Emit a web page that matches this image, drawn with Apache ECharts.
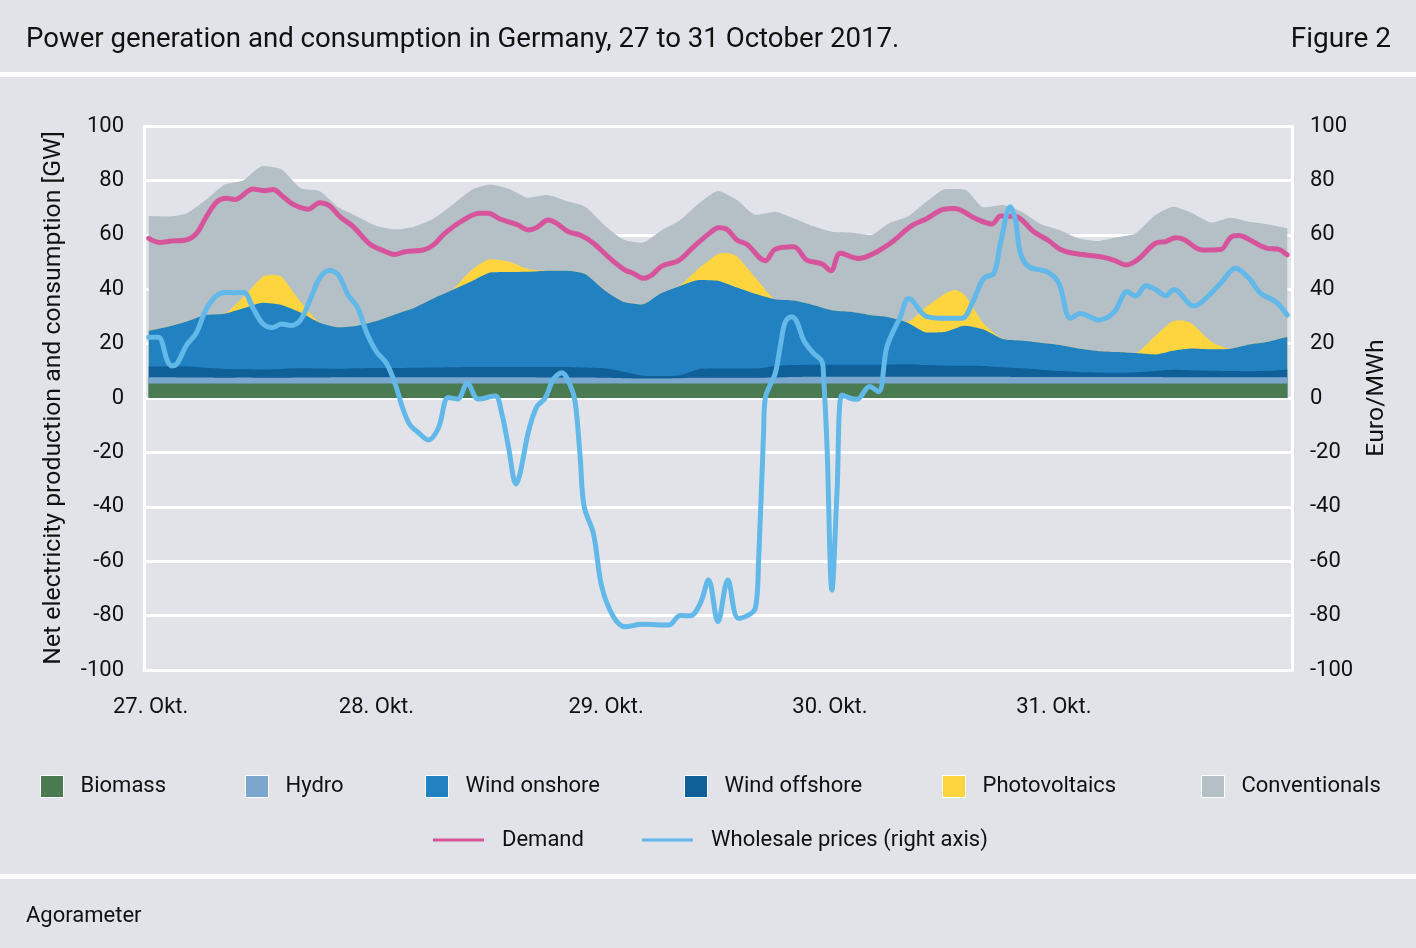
<!DOCTYPE html>
<html>
<head>
<meta charset="utf-8">
<style>html,body{margin:0;padding:0;background:#e1e3e8}#chart{width:1416px;height:948px}</style>
<script src="https://cdn.jsdelivr.net/npm/echarts@6/dist/echarts.min.js"></script>
</head>
<body>
<div id="chart"></div>
<script>
// hours since 27 Oct 00:00, one reading every 2 hours for the generation bands
var bandHours = [0,2,4,6,8,10,12,14,16,18,20,22,24,26,28,30,32,34,36,38,40,42,44,46,48,50,52,54,56,58,60,62,64,66,68,70,72,74,76,78,80,82,84,86,88,90,92,94,96,98,100,102,104,106,108,110,112,114,116,118,120];
// the solar humps peak between those readings, so they get a few more
var photovoltaicsHours = [0,2,4,6,8,10,12,13,14,16,18,20,22,24,26,28,30,32,34,36,38,40,42,44,46,48,50,52,54,56,58,60,61,62,64,66,68,70,72,74,76,78,80,82,84,85,86,88,90,92,94,96,98,100,102,104,106,108,109,110,112,114,116,118,120];

// upper edge of each band in GW
var biomassTop = [5.3,5.3,5.3,5.3,5.3,5.3,5.3,5.3,5.3,5.3,5.3,5.3,5.3,5.3,5.3,5.3,5.3,5.3,5.3,5.3,5.3,5.3,5.3,5.3,5.3,5.3,5.3,5.3,5.3,5.3,5.3,5.3,5.3,5.3,5.3,5.3,5.3,5.3,5.3,5.3,5.3,5.3,5.3,5.3,5.3,5.3,5.3,5.3,5.3,5.3,5.3,5.3,5.3,5.3,5.3,5.3,5.3,5.3,5.3,5.3,5.3];
var hydroTop = [7.6,7.6,7.5,7.5,7.4,7.5,7.4,7.4,7.5,7.5,7.6,7.6,7.6,7.6,7.6,7.6,7.6,7.6,7.6,7.6,7.6,7.5,7.5,7.5,7.4,7.3,7.2,7.2,7.3,7.4,7.4,7.4,7.4,7.5,7.7,7.8,7.8,7.8,7.8,7.8,7.8,7.8,7.8,7.8,7.8,7.8,7.7,7.7,7.7,7.7,7.7,7.7,7.7,7.7,7.6,7.6,7.6,7.6,7.6,7.6,7.6];
var windOffshoreTop = [11.6,11.6,11.6,11.1,10.7,10.6,10.5,10.7,10.9,10.8,10.7,10.9,11,11,11.1,11.2,11.3,11.4,11.4,11.4,11.4,11.4,11.4,11.2,10.9,9.7,8.2,8.1,8.4,10.6,10.8,10.8,10.8,11.8,12.1,12.2,12.2,12.2,12.2,12.3,12.4,12.1,11.9,11.9,11.8,11.3,10.9,10.4,9.9,9.6,9.4,9.3,9.4,9.9,10.4,10.2,10,9.9,9.8,10,10.5];
var windOnshoreTop = [24.7,26.2,28.1,30.5,31,33,35,34.2,31.4,27.7,26,26.6,28.3,30.8,33.2,36.6,39.7,42.8,46.1,46.3,46.4,46.8,46.8,45.6,39.7,35.4,34.4,38.5,41.2,43.4,43.1,40.6,38.2,36.3,35.8,34.2,32.3,31.7,30.5,29.7,27.7,24.1,24.4,26.6,25.2,21.7,21.1,20.3,19.5,18.2,17.3,16.9,16.5,16,17.4,18.2,17.9,18.1,19.7,20.7,22.5];
var photovoltaicsTop = [24.7,26.2,28.1,30.5,31,37.2,44.6,45.3,44.6,35.4,27.7,26,26.6,28.3,30.8,33.2,36.6,39.8,47,51,50.1,47.4,46.8,46.8,45.6,39.7,35.4,34.4,38.5,41.4,47.7,52.9,53.3,52,44,36.3,35.8,34.2,32.3,31.7,30.5,29.7,28.1,33.6,38.5,39.7,37.9,27.4,21.7,21.1,20.3,19.5,18.2,17.3,16.9,16.5,22.5,28.3,28.5,27.2,20.7,18.1,19.7,20.7,22.5];
var conventionalsTop = [66.9,66.7,67.9,72.8,78.5,80.1,85.3,84.1,77.1,76.1,70.1,66.7,63.2,62,63,66,71,76.5,78.5,76.8,73.6,74.6,72.4,70.3,63.6,58.3,57.1,61.5,65.4,71.6,76.1,72.8,67.3,68.5,66,63.2,61.1,60.8,59.9,64.2,66.7,72.2,76.8,76.7,70.1,71,68.5,64,61.8,58.7,57.7,59.1,60.5,67,70.3,67.9,64.5,66.3,64.8,63.8,62.4];

var demandHours = [0,1.16,2.39,3.8,5.03,6.08,7.2,8.19,9.07,11,12.23,13.1,14.17,15.2,16.8,18.03,19.08,20.14,21.55,23.3,24.71,25.94,27,28.93,29.98,31.2,33.15,34.9,35.8,37,38.8,40,40.9,42.12,43,44.23,45.46,46.87,48.63,50.21,51.09,52.14,53.02,54.08,55.84,57.42,59.18,60.06,60.94,61.99,63.04,64.98,66.03,67.97,69.37,70.96,71.9,72.89,74.83,76.76,78.52,80.27,82.03,83.79,85.02,85.9,87.13,88.89,89.77,91.35,93.28,94.87,96.1,97.5,100.32,101.72,103.02,104.18,106.12,107.17,108.23,109.11,111.04,112.98,114.03,114.91,115.96,117.9,118.95,120];
var demand = [58.7,57.2,57.7,58,60.5,66.7,72.2,73.4,73,76.8,76.2,76.7,74,71.2,69.4,71.8,70.6,66.7,63,56.6,54.2,52.8,53.8,54.4,56.2,60.5,65.4,67.9,67.9,65.8,63.8,61.8,62.7,65.4,64.2,61.1,59.9,56.9,51.3,47,45.8,44,45.2,48.5,50.5,55.6,60.8,62.6,62,58.1,56.5,50.5,54.7,55.6,50.7,49.3,46.8,53.2,51.3,53.8,57.8,63,66,69.4,69.7,68.5,66,64,66.9,66.7,61.1,57.8,54.6,53.2,51.9,50.7,48.9,50.7,56.9,57.5,58.9,58.3,54.4,54.6,59,59.7,58.3,55,54.8,52.6];

var priceHours = [0,1,2,2.5,3,4,5,6,7,8,9,10,11,12,13,14,15,16,17,18,19,20,21,22,23,24,25.07,25.95,26.83,27.53,28.41,29.47,30.52,31.58,32.56,33.58,34.74,36.5,37.2,37.91,38.72,39.14,40.02,40.9,41.78,42.65,43.53,44.41,44.94,45.47,45.89,46.87,47.75,48.98,50.21,51.97,54.79,56.02,57.07,58.13,59,59.99,61.04,62.17,63.93,64.28,64.8,64.98,66.03,66.56,67.09,67.79,68.32,69.02,70.08,70.96,71.13,71.49,72.01,72.54,73.07,73.95,74.65,75.98,76.93,77.81,79.22,80.1,82.03,83.97,85.72,86.78,88.01,89.07,89.77,90.82,91.35,91.88,92.76,94.69,95.92,97.15,98.21,100.14,101.72,103.13,104.01,105.13,106.12,107.17,108.05,110.16,111.22,112.98,114.56,115.96,117.19,118.78,120];
var price = [22.3,22.3,13.4,11.8,12.7,19.5,23.8,32.3,37.2,38.8,38.7,38.8,33,27.4,25.9,27.2,26.7,28.7,36,44,46.9,45.2,37.9,33.3,23.8,17,12.7,5.4,-4.4,-9.9,-12.7,-15.4,-11.1,0.2,-0.4,5.4,-0.4,0.7,-5.6,-17.9,-31.6,-27.7,-12.4,-3.2,-0.1,6.9,9.3,4.8,-1.3,-21.6,-39.9,-49.8,-69.4,-80.4,-84.1,-83.2,-83.5,-80,-80.1,-75.5,-66.9,-82.2,-66.9,-81,-77.3,-59.6,-13,-0.1,9,18.9,28,29.9,28,21.3,16.4,13.4,8,-17.9,-70.6,-35,1.1,-0.1,-0.5,4.2,2.3,18.9,29.9,36.6,29.9,29.3,29.3,34.8,44,45.8,56.9,70.3,65.4,53.2,48.3,46.4,42.2,29.3,31.1,28.7,31.4,39.1,37.5,41.3,39.9,37.6,39.9,33.8,36,42.2,47.7,44,38.5,35.4,30.5];

var dayTicks = [0.2,24,48.2,71.8,95.4];
var dayLabels = ['27. Okt.','28. Okt.','29. Okt.','30. Okt.','31. Okt.'];

var FONT = 'Roboto';
var TEXT = '#111111';

function pairs(xs, ys) {
    return xs.map(function(x, i) { return [x, ys[i]]; });
}

function band(name, color, xs, top) {
    return {
        name: name, type: 'line', data: pairs(xs, top),
        showSymbol: false, silent: true, smooth: 0.2,
        itemStyle: {color: color},
        lineStyle: {width: 0},
        areaStyle: {color: color, opacity: 1}
    };
}

function curve(name, color, xs, ys, yAxisIndex) {
    return {
        name: name, type: 'line', data: pairs(xs, ys), yAxisIndex: yAxisIndex,
        showSymbol: false, silent: true, smooth: 0.35,
        itemStyle: {color: color},
        lineStyle: {color: color, width: 5, cap: 'round', join: 'round'},
        z: 5
    };
}

// the legend is not evenly spaced in the original, so one legend per entry
function swatch(name, left) {
    return {
        data: [name], left: left, top: 775, icon: 'rect', itemWidth: 23, itemHeight: 22, itemGap: 0,
        itemStyle: {borderColor: '#ffffff', borderWidth: 1},
        selectedMode: false, padding: 0,
        textStyle: {fontFamily: FONT, fontSize: 22, color: TEXT, padding: [6, 0, 0, 12]}
    };
}
function lineKey(name, left) {
    return {
        data: [name], left: left, top: 829, icon: 'rect', itemWidth: 51, itemHeight: 3, itemGap: 0,
        selectedMode: false, padding: 0,
        textStyle: {fontFamily: FONT, fontSize: 22, color: TEXT, padding: [6, 0, 0, 13]}
    };
}

var chart = echarts.init(document.getElementById('chart'));
chart.setOption({
    animation: false,
    backgroundColor: '#e1e3e8',
    title: [
        {text: 'Power generation and consumption in Germany, 27 to 31 October 2017.', left: 26, top: 26, padding: 0,
            textStyle: {fontFamily: FONT, fontWeight: 'normal', fontSize: 27.6, color: TEXT}},
        {text: 'Figure 2', right: 25, top: 26, padding: 0,
            textStyle: {fontFamily: FONT, fontWeight: 'normal', fontSize: 28, color: TEXT}},
        {text: 'Agorameter', left: 26, top: 905, padding: 0,
            textStyle: {fontFamily: FONT, fontWeight: 'normal', fontSize: 22, color: TEXT}}
    ],
    graphic: [
        {type: 'rect', shape: {x: 0, y: 72, width: 1416, height: 5}, style: {fill: '#ffffff'}},
        {type: 'rect', shape: {x: 0, y: 874, width: 1416, height: 5}, style: {fill: '#ffffff'}}
    ],
    grid: {left: 144, right: 124, top: 126, height: 544},
    xAxis: {
        type: 'value', min: -0.5, max: 120.5, splitLine: {show: false},
        axisLine: {onZero: false, lineStyle: {color: '#ffffff', width: 3}},
        axisTick: {show: false},
        axisLabel: {
            customValues: dayTicks, margin: 26, color: TEXT, fontFamily: FONT, fontSize: 22,
            formatter: function(v) { return dayLabels[dayTicks.indexOf(v)]; }
        }
    },
    yAxis: [
        {
            type: 'value', min: -100, max: 100, interval: 20,
            name: 'Net electricity production and consumption [GW]', nameLocation: 'middle', nameGap: 78, nameRotate: 90,
            nameTextStyle: {fontFamily: FONT, fontSize: 24.8, color: TEXT},
            axisLine: {show: true, onZero: false, lineStyle: {color: '#ffffff', width: 3}},
            axisTick: {show: false},
            splitLine: {lineStyle: {color: '#ffffff', width: 3}},
            axisLabel: {margin: 20, color: TEXT, fontFamily: FONT, fontSize: 22, padding: [4, 0, 0, 0]}
        },
        {
            type: 'value', min: -100, max: 100, interval: 20, position: 'right',
            name: 'Euro/MWh', nameLocation: 'middle', nameGap: 72, nameRotate: 90,
            nameTextStyle: {fontFamily: FONT, fontSize: 24.8, color: TEXT},
            axisLine: {show: true, onZero: false, lineStyle: {color: '#ffffff', width: 3}},
            axisTick: {show: false},
            splitLine: {show: false},
            axisLabel: {margin: 18, color: TEXT, fontFamily: FONT, fontSize: 22, padding: [4, 0, 0, 0]}
        }
    ],
    legend: [
        swatch('Biomass', 40), swatch('Hydro', 245), swatch('Wind onshore', 425),
        swatch('Wind offshore', 684), swatch('Photovoltaics', 942), swatch('Conventionals', 1201),
        lineKey('Demand', 433), lineKey('Wholesale prices (right axis)', 642)
    ],
    series: [
        // painted back to front, each band reaching down to zero
        band('Conventionals', '#b5c0c6', bandHours, conventionalsTop),
        band('Photovoltaics', '#ffd53f', photovoltaicsHours, photovoltaicsTop),
        band('Wind onshore', '#2281c1', bandHours, windOnshoreTop),
        band('Wind offshore', '#0f5f99', bandHours, windOffshoreTop),
        band('Hydro', '#7ba7cf', bandHours, hydroTop),
        band('Biomass', '#4a7a52', bandHours, biomassTop),
        curve('Demand', '#d6549b', demandHours, demand, 0),
        curve('Wholesale prices (right axis)', '#62b8e8', priceHours, price, 1)
    ]
});
</script>
</body>
</html>
